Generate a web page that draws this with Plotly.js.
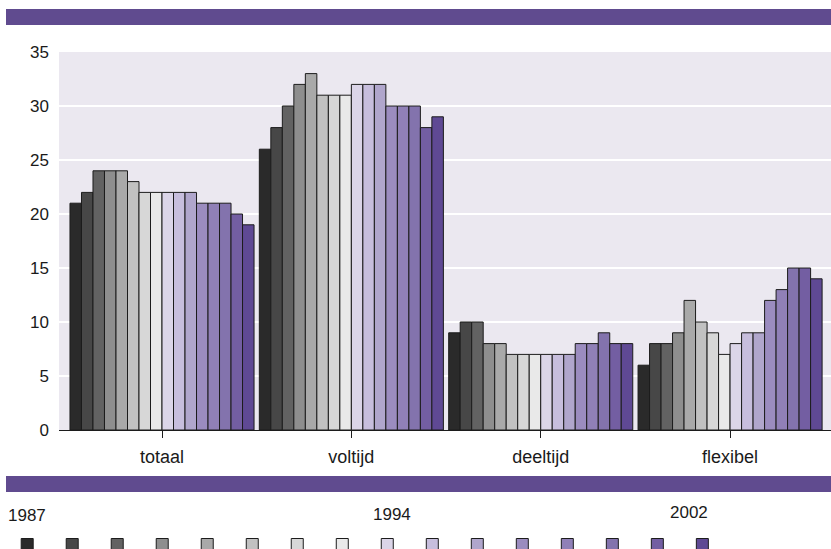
<!DOCTYPE html>
<html>
<head>
<meta charset="utf-8">
<script src="https://cdn.plot.ly/plotly-3.0.1.min.js"></script>
<style>html,body{margin:0;padding:0;background:#fff;}#chart{width:831px;height:549px;}</style>
</head>
<body>
<div id="chart"></div>
<script>
// ---- data ----
var categories = ['totaal', 'voltijd', 'deeltijd', 'flexibel'];
var years = ['1987','1988','1989','1990','1991','1992','1993','1994','1995','1996','1997','1998','1999','2000','2001','2002'];
var totaal   = [21, 22, 24, 24, 24, 23, 22, 22, 22, 22, 22, 21, 21, 21, 20, 19];
var voltijd  = [26, 28, 30, 32, 33, 31, 31, 31, 32, 32, 32, 30, 30, 30, 28, 29];
var deeltijd = [9, 10, 10, 8, 8, 7, 7, 7, 7, 7, 7, 8, 8, 9, 8, 8];
var flexibel = [6, 8, 8, 9, 12, 10, 9, 7, 8, 9, 9, 12, 13, 15, 15, 14];
var legendYearLabels = ['1987', '1994', '2002'];
var yTicks = [0, 5, 10, 15, 20, 25, 30, 35];

// ---- styles ----
var colors = ['#2a2a2a','#474747','#626262','#8e8e8e','#a9a9a9','#c1c1c1','#d7d7d7','#e9e9e9',
              '#dbd5e8','#c7bedd','#b0a6cc','#9b8cbf','#9080b7','#8373ad','#735ea2','#5f4994'];
var purple = '#604b8f';
var sans = 'Liberation Sans, Arial, sans-serif';

var traces = years.map(function (yr, i) {
  return {
    type: 'bar',
    name: '',
    x: categories,
    y: [totaal[i], voltijd[i], deeltijd[i], flexibel[i]],
    marker: { color: colors[i], line: { color: '#1c1c1c', width: 1 } },
    hovertemplate: '%{x} ' + yr + ': %{y}<extra></extra>'
  };
});

// pixel helpers for layout decorations
var L = 59, T = 52, PW = 772, PH = 378;
function px(x) { return (x - L) / PW; }
function py(y) { return (T + PH - y) / PH; }

var annXs = [26.5, 391.5, 688.5];
var annYs = [515, 514, 512];
var annotations = legendYearLabels.map(function (t, i) {
  return {
    text: t, xref: 'paper', yref: 'paper', x: px(annXs[i]), y: py(annYs[i]),
    xanchor: 'center', yanchor: 'middle', showarrow: false,
    font: { family: sans, size: 17, color: '#1a1a1a' }
  };
});

var layout = {
  width: 831, height: 549,
  margin: { l: L, r: 831 - L - PW, t: T, b: 549 - T - PH, pad: 0, autoexpand: false },
  paper_bgcolor: '#ffffff',
  plot_bgcolor: '#ebe8f0',
  barmode: 'group',
  bargap: 0.028,
  bargroupgap: 0,
  showlegend: true,
  legend: {
    orientation: 'h', xref: 'paper', yref: 'paper',
    x: px(7.2), y: py(530), xanchor: 'left', yanchor: 'top',
    entrywidth: 0.01, entrywidthmode: 'pixels', itemwidth: 30,
    font: { size: 12, color: 'rgba(0,0,0,0)' },
    bgcolor: 'rgba(0,0,0,0)', borderwidth: 0,
    itemclick: false, itemdoubleclick: false
  },
  xaxis: {
    type: 'category',
    range: [-0.544, 3.533],
    showgrid: false, zeroline: false,
    showline: true, linecolor: '#1c1c1c', linewidth: 1,
    ticks: 'outside', ticklen: 7, tickcolor: '#1c1c1c', tickwidth: 1,
    ticklabelstandoff: 3,
    tickfont: { family: sans, size: 18, color: '#1a1a1a' },
    fixedrange: true
  },
  yaxis: {
    range: [0, 35],
    tickvals: yTicks,
    showgrid: true, gridcolor: '#ffffff', gridwidth: 2,
    zeroline: false, showline: false, ticks: '',
    ticklabelstandoff: 9,
    tickfont: { family: sans, size: 17, color: '#1a1a1a' },
    fixedrange: true
  },
  shapes: [
    { type: 'rect', xref: 'paper', yref: 'paper', x0: px(6), x1: px(831), y0: py(25), y1: py(9),
      fillcolor: purple, line: { width: 0 }, layer: 'above' },
    { type: 'rect', xref: 'paper', yref: 'paper', x0: px(6), x1: px(831), y0: py(492), y1: py(476),
      fillcolor: purple, line: { width: 0 }, layer: 'above' }
  ],
  annotations: annotations
};

Plotly.newPlot('chart', traces, layout, { displayModeBar: false });
</script>
</body>
</html>
